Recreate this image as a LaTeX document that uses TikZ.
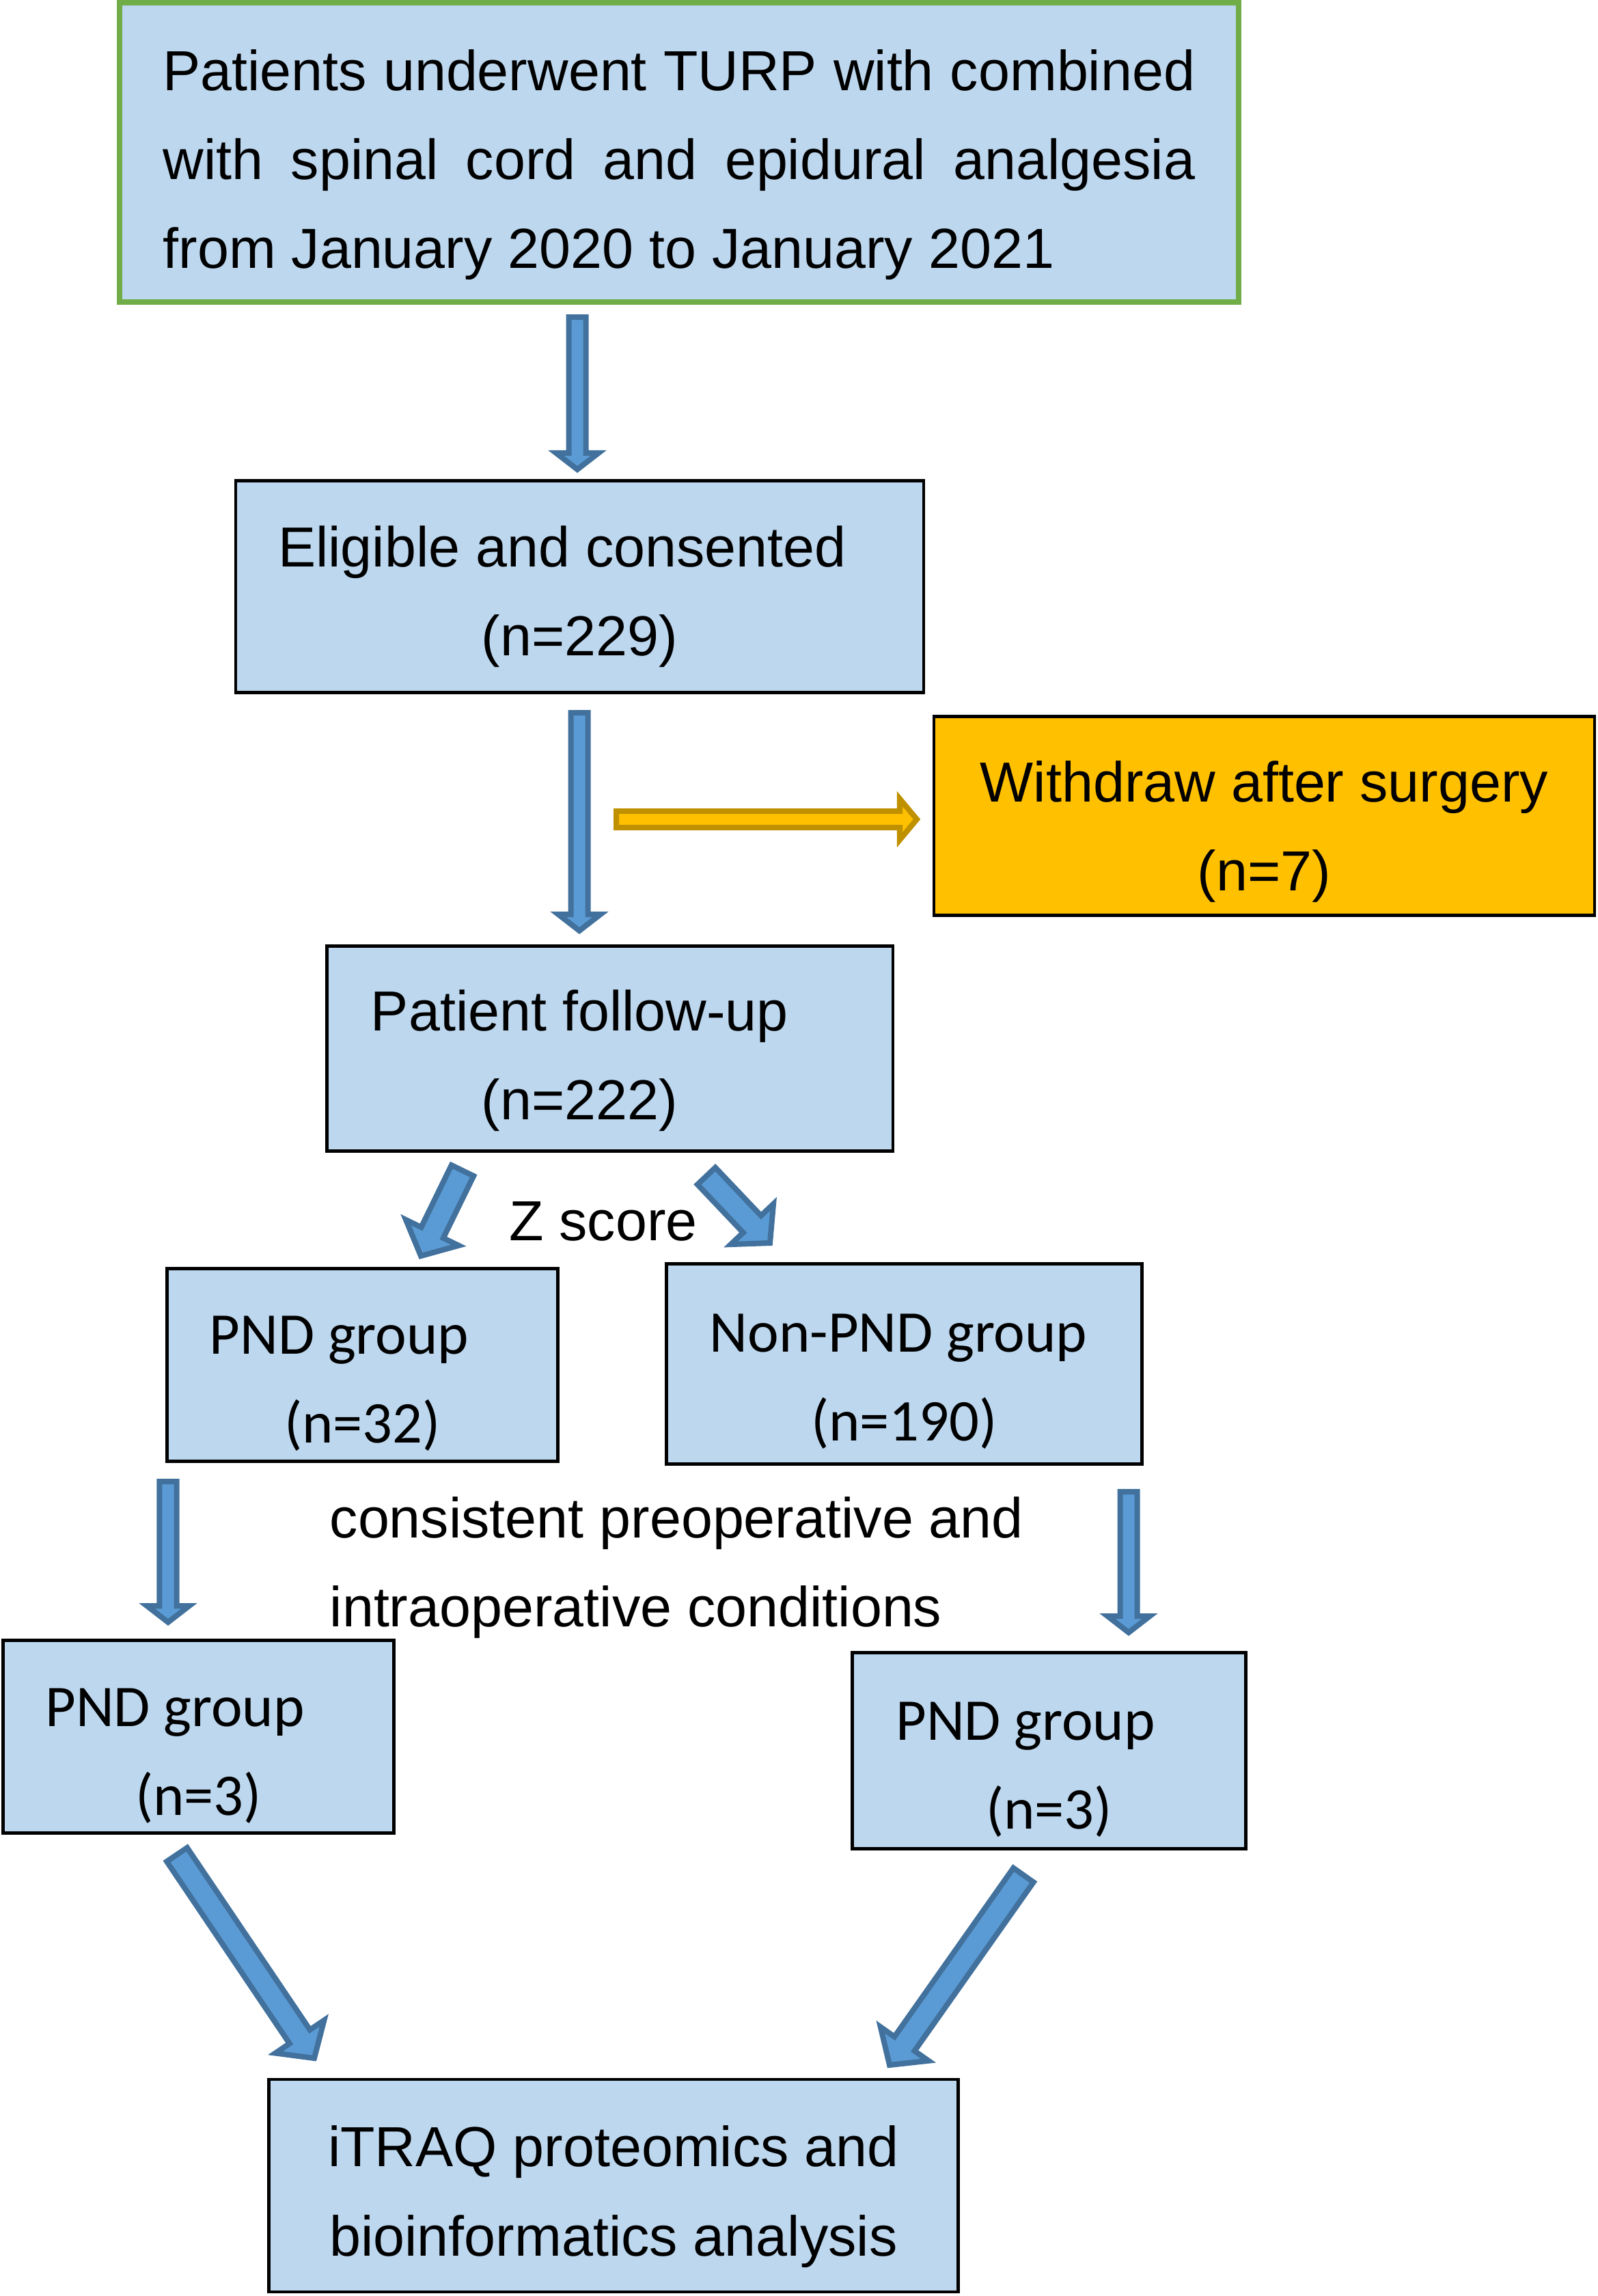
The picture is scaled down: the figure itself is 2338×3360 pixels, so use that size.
\documentclass[tikz,border=0pt]{standalone}
\usepackage{fontspec}
\setmainfont{Liberation Sans}
\newfontfamily\calibri{Carlito}
\usetikzlibrary{calc,positioning}

\definecolor{boxblue}{HTML}{BDD7EE}
\definecolor{framegreen}{HTML}{70AD47}
\definecolor{gold}{HTML}{FFC000}
\definecolor{golddark}{HTML}{BF9000}
\definecolor{arrowblue}{HTML}{5B9BD5}
\definecolor{arrowedge}{HTML}{41719C}

\newcommand{\bodyfont}{\fontsize{23.5}{37}\selectfont}
\newcommand{\groupfont}{\calibri\fontsize{24.6}{37}\selectfont}
% taller first line, pushes the text down in its box
\newcommand{\topgap}[1]{\rule{0pt}{#1}}

% fat arrow: style, from, to, half shaft width, half head width, head length
\newcommand{\blockarrow}[6]{%
  \coordinate (hb) at ($(#3)!#6!(#2)$);
  \draw[#1] ($(#2)!#4!90:(#3)$) -- ($(hb)!#4!90:(#3)$) -- ($(hb)!#5!90:(#3)$) -- (#3)
    -- ($(hb)!#5!-90:(#3)$) -- ($(hb)!#4!-90:(#3)$) -- ($(#2)!#4!-90:(#3)$) -- cycle;
}

\begin{document}
\begin{tikzpicture}[x=0.01cm, y=-0.01cm,
  box/.style={draw=black, line width=0.045cm, fill=boxblue, inner sep=0pt, align=center, font=\bodyfont},
  groupbox/.style={box, font=\groupfont},
  blue arrow/.style={draw=arrowedge, fill=arrowblue, line width=0.08cm},
  gold arrow/.style={draw=golddark, fill=gold, line width=0.08cm},
  note/.style={inner sep=0pt, font=\bodyfont}
]
\useasboundingbox (0,0) rectangle (2338,3360);

% boxes
\node[box, draw=framegreen, line width=0.08cm, minimum width=16.38cm, minimum height=4.38cm,
  text width=15.1cm, align=justify] (turp) at (994,223)
  {\topgap{27.3pt}Patients underwent TURP with combined\linebreak with spinal cord and epidural analgesia\linebreak from January 2020 to January 2021};
\node[box, minimum width=10.06cm, minimum height=3.10cm] (elig) at (848.5,858.5) {\topgap{25.1pt}Eligible and consented\hspace*{0.51cm}\\(n=229)};
\node[box, fill=gold, minimum width=9.66cm, minimum height=2.91cm] (withdraw) at (1850.5,1194) {\topgap{30.2pt}Withdraw after surgery\\(n=7)};
\node[box, minimum width=8.28cm, minimum height=3.00cm] (follow) at (892.5,1534.5) {\topgap{26.8pt}Patient follow-up\hspace*{0.88cm}\\(n=222)\hspace*{0.88cm}};
\node[groupbox, minimum width=5.72cm, minimum height=2.82cm] (pnd) at (530.5,1997.5) {\topgap{31.2pt}PND group\hspace*{0.68cm}\\(n=32)};
\node[groupbox, minimum width=6.96cm, minimum height=2.93cm] (nonpnd) at (1323.5,1996) {\topgap{30.6pt}Non-PND group\hspace*{0.17cm}\\(n=190)};
\node[groupbox, minimum width=5.72cm, minimum height=2.82cm] (pndleft) at (290.5,2541.5) {\topgap{31.7pt}PND group\hspace*{0.69cm}\\(n=3)};
\node[groupbox, minimum width=5.76cm, minimum height=2.87cm] (pndright) at (1535.5,2562) {\topgap{31.7pt}PND group\hspace*{0.69cm}\\(n=3)};
\node[box, minimum width=10.08cm, minimum height=3.11cm] (itraq) at (898,3198.5) {\topgap{26.2pt}iTRAQ proteomics and\\bioinformatics analysis};

% free texts
\node[note] (zscore) at (883,1787) {Z score};
\node[note, align=left, anchor=west] (cond) at (482,2294) {consistent preoperative and\\intraoperative conditions};

% arrow ends
\coordinate (turpout) at (845,464);     \coordinate (eligin) at (845,687);
\coordinate (eligout) at (848,1043);    \coordinate (followin) at (848,1362);
\coordinate (dropout) at (902,1199);    \coordinate (withdrawin) at (1342,1199);
\coordinate (zleft) at (677,1713);      \coordinate (pndin) at (616,1838);
\coordinate (zright) at (1034,1721);    \coordinate (nonpndin) at (1127,1819);
\coordinate (pndout) at (246,2168);     \coordinate (pndleftin) at (246,2374);
\coordinate (nonpndout) at (1652,2183); \coordinate (pndrightin) at (1652,2389);
\coordinate (leftout) at (259,2714);    \coordinate (itraqleft) at (460,3012);
\coordinate (rightout) at (1498,2744);  \coordinate (itraqright) at (1302,3022);

\foreach \s/\e in {turpout/eligin,eligout/followin,pndout/pndleftin,nonpndout/pndrightin}
  \blockarrow{blue arrow}{\s}{\e}{0.125cm}{0.31cm}{0.24cm};
\foreach \s/\e in {zleft/pndin,zright/nonpndin,leftout/itraqleft,rightout/itraqright}
  \blockarrow{blue arrow}{\s}{\e}{0.18cm}{0.43cm}{0.38cm};
\blockarrow{gold arrow}{dropout}{withdrawin}{0.12cm}{0.30cm}{0.25cm};
\end{tikzpicture}
\end{document}
